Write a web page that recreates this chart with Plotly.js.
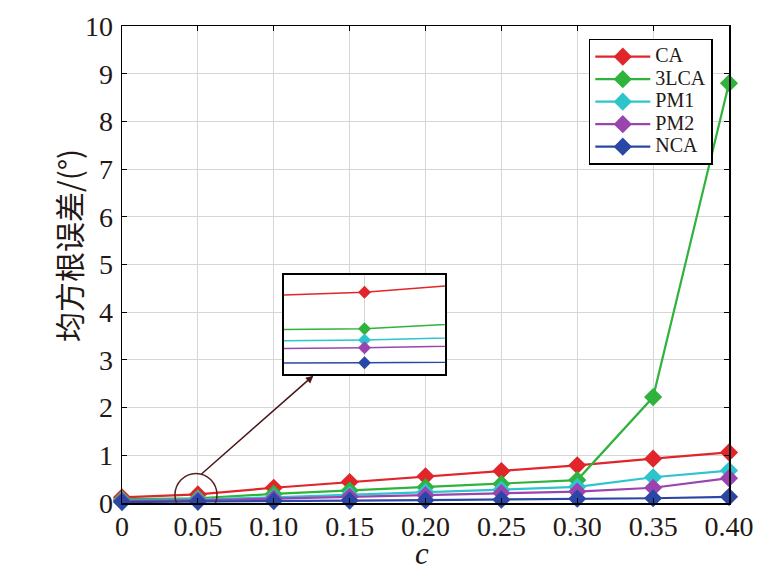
<!DOCTYPE html>
<html>
<head>
<meta charset="utf-8">
<script src="https://cdn.plot.ly/plotly-3.0.1.min.js"></script>
<style>html,body{margin:0;padding:0;background:#fff;}#chart{width:779px;height:587px;}</style>
</head>
<body>
<div id="chart"></div>
<script>
// ---- data ----
const c = [0, 0.05, 0.10, 0.15, 0.20, 0.25, 0.30, 0.35, 0.40];
const xTickText = ['0', '0.05', '0.10', '0.15', '0.20', '0.25', '0.30', '0.35', '0.40'];
const seriesNames = ['CA', '3LCA', 'PM1', 'PM2', 'NCA'];
const CA   = [0.12, 0.18, 0.32, 0.44, 0.56, 0.67, 0.79, 0.93, 1.06];
const LCA3 = [0.08, 0.10, 0.19, 0.26, 0.33, 0.40, 0.48, 2.22, 8.80];
const PM1  = [0.06, 0.075, 0.12, 0.17, 0.23, 0.28, 0.34, 0.54, 0.68];
const PM2  = [0.045, 0.058, 0.09, 0.13, 0.16, 0.21, 0.24, 0.32, 0.52];
const NCA  = [0.02, 0.025, 0.04, 0.05, 0.06, 0.07, 0.09, 0.10, 0.13];
const yTicks = [0,1,2,3,4,5,6,7,8,9,10];
const yTitle = '均方根误差/(°)';
const xTitle = '<i>c</i>';

const values = [CA, LCA3, PM1, PM2, NCA];
const colors = ['#e0262b', '#2fb33c', '#2ec4cc', '#9a44b0', '#2b47a5'];
const serif = 'Liberation Serif, Times New Roman, serif';
const ink = '#231815';

const traces = [];
values.forEach((v, i) => {
  traces.push({
    x: c, y: v, name: '<span style="font-size:20px">' + seriesNames[i] + '</span>',
    type: 'scatter', mode: 'lines+markers',
    line: {color: colors[i], width: 2.2},
    marker: {symbol: 'diamond', size: 14, color: colors[i]},
    cliponaxis: false, xaxis: 'x', yaxis: 'y'
  });
});
values.forEach((v, i) => {
  traces.push({
    x: c, y: v, name: seriesNames[i], type: 'scatter', mode: 'lines+markers',
    line: {color: colors[i], width: 1.5},
    marker: {symbol: 'diamond', size: 10, color: colors[i]},
    showlegend: false, xaxis: 'x2', yaxis: 'y2'
  });
});

const layout = {
  width: 779, height: 587,
  margin: {l: 122, r: 50, t: 26, b: 84},
  paper_bgcolor: '#ffffff', plot_bgcolor: '#ffffff',
  showlegend: true,
  font: {family: serif, color: ink},
  xaxis: {
    range: [0, 0.40], tickvals: c, ticktext: xTickText,
    showgrid: true, gridcolor: '#d6d6d6', gridwidth: 1, zeroline: false,
    ticks: 'inside', ticklen: 5, tickcolor: '#000', tickwidth: 1,
    showline: true, linecolor: '#000', linewidth: 1.5, mirror: 'ticks',
    tickfont: {family: serif, size: 28, color: ink},
    ticklabelstandoff: -2,
    domain: [0, 1]
  },
  yaxis: {
    range: [0, 10], tickvals: yTicks,
    showgrid: true, gridcolor: '#d6d6d6', gridwidth: 1, zeroline: false,
    ticks: 'inside', ticklen: 5, tickcolor: '#000', tickwidth: 1,
    showline: true, linecolor: '#000', linewidth: 1.5, mirror: 'ticks',
    tickfont: {family: serif, size: 28, color: ink},
    ticklabelstandoff: 2,
    domain: [0, 1]
  },
  xaxis2: {
    domain: [0.267, 0.532], anchor: 'y2', range: [0.045, 0.055],
    tickvals: [0.05], showticklabels: false, ticks: '',
    showgrid: true, gridcolor: '#d6d6d6', zeroline: false,
    showline: true, linecolor: '#000', linewidth: 2.5, mirror: true
  },
  yaxis2: {
    domain: [0.271, 0.477], anchor: 'x2', range: [0.001, 0.217],
    showgrid: false, showticklabels: false, ticks: '', zeroline: false,
    showline: true, linecolor: '#000', linewidth: 2.5, mirror: true
  },
  legend: {
    x: 0.769, y: 0.973, xanchor: 'left', yanchor: 'top',
    bgcolor: '#ffffff', bordercolor: '#000', borderwidth: 1.5,
    font: {family: serif, size: 15, color: ink},
    itemwidth: 55, tracegroupgap: 0
  },
  shapes: [{
    type: 'circle', xref: 'x', yref: 'y',
    x0: 0.0349, x1: 0.0626, y0: -0.28, y1: 0.62,
    line: {color: '#5a1e1e', width: 1.5}, layer: 'above'
  }],
  annotations: [{
    xref: 'x', yref: 'y', axref: 'x', ayref: 'y',
    x: 0.1261, y: 2.67, ax: 0.0514, ay: 0.58,
    text: '', showarrow: true, arrowhead: 2, arrowsize: 1, arrowwidth: 1.5,
    arrowcolor: '#4a1515'
  }, {
    xref: 'paper', yref: 'paper', x: 0.494, y: -0.106,
    xanchor: 'center', yanchor: 'middle', showarrow: false,
    text: xTitle, font: {family: serif, size: 31, color: ink}
  }, {
    xref: 'paper', yref: 'paper', x: -0.088, y: 0.540,
    xanchor: 'center', yanchor: 'middle', showarrow: false, textangle: -90,
    text: yTitle, font: {family: 'Noto Sans CJK SC, ' + serif, size: 30, color: ink}
  }]
};

Plotly.newPlot('chart', traces, layout, {displayModeBar: false, staticPlot: true});
</script>
</body>
</html>
